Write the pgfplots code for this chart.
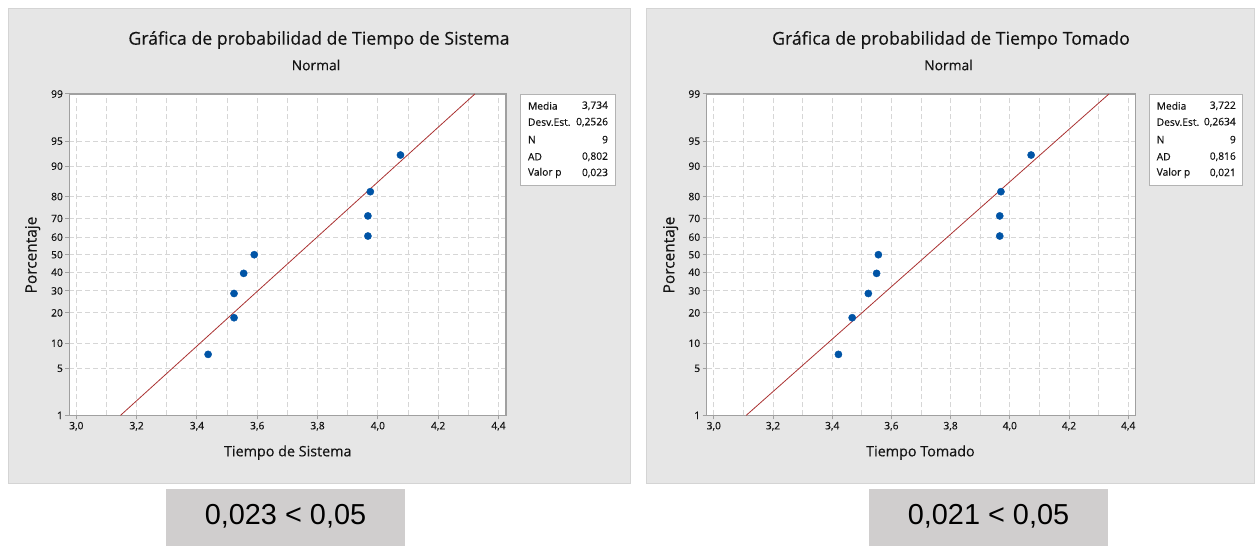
\documentclass[border=0pt]{standalone}
\usepackage{pgfplots}
\pgfplotsset{compat=1.18}
\usepackage{fontspec}
\setmainfont{Open Sans}[FakeBold=0.35]
\setsansfont{Open Sans}[FakeBold=0.35]
\newfontfamily\arialf{Liberation Sans}
\definecolor{panel}{RGB}{230,230,230}
\definecolor{panelborder}{RGB}{212,212,212}
\definecolor{boxgray}{RGB}{208,206,206}
\definecolor{gridc}{RGB}{214,214,214}
\definecolor{axisc}{RGB}{160,160,160}
\definecolor{ptblue}{RGB}{0,84,166}
\definecolor{fitred}{RGB}{170,50,50}
\definecolor{txt}{RGB}{20,20,20}

\pgfplotsset{
  probplot/.style={
    scale only axis,
    height=321.4bp,
    ymin=-2.32635, ymax=2.32635,
    ytick={-2.32635,-1.64485,-1.28155,-0.84162,-0.52440,-0.25335,0,0.25335,0.52440,0.84162,1.28155,1.64485,2.32635},
    yticklabels={1,5,10,20,30,40,50,60,70,80,90,95,99},
    xtick={3.0,3.2,3.4,3.6,3.8,4.0,4.2,4.4},
    xticklabels={{3,0},{3,2},{3,4},{3,6},{3,8},{4,0},{4,2},{4,4}},
    minor xtick={3.1,3.3,3.5,3.7,3.9,4.1,4.3},
    xmajorgrids, xminorgrids, ymajorgrids,
    major grid style={gridc, dash pattern=on 5bp off 3bp, line width=1bp},
    minor grid style={gridc, dash pattern=on 5bp off 3bp, line width=1bp},
    axis line style={axisc, line width=1.2bp},
    major tick style={axisc, line width=1bp},
    tick align=outside,
    major tick length=4bp,
    minor tick length=0pt,
    xtick pos=bottom, ytick pos=left,
    ticklabel style={font=\fontsize{10.3}{12}\selectfont, text=txt},
    xticklabel style={yshift=1bp},
    yticklabel style={xshift=1bp},
    axis background/.style={fill=white},
  }
}

\begin{document}
\begin{tikzpicture}
\path[use as bounding box] (0bp,0bp) rectangle (1255bp,-546bp);
% panels
\filldraw[fill=panel, draw=panelborder, line width=1bp] (8bp,-8bp) rectangle (630bp,-483bp);
\filldraw[fill=panel, draw=panelborder, line width=1bp] (646bp,-8bp) rectangle (1254bp,-483bp);
% bottom boxes
\fill[boxgray] (166bp,-489bp) rectangle (405bp,-546bp);
\fill[boxgray] (869bp,-489bp) rectangle (1108bp,-546bp);
\node[font=\arialf\fontsize{29}{32}\selectfont, text=black] at (285.5bp,-516bp) {0,023 < 0,05};
\node[font=\arialf\fontsize{29}{32}\selectfont, text=black] at (988.5bp,-516bp) {0,021 < 0,05};

% titles
\node[font=\fontsize{17.8}{20}\selectfont, text=txt] at (319bp,-40bp) {Gráfica de probabilidad de Tiempo de Sistema};
\node[font=\fontsize{13.9}{16}\selectfont, text=txt] at (316bp,-65bp) {Normal};
\node[font=\fontsize{17.8}{20}\selectfont, text=txt] at (951bp,-40bp) {Gráfica de probabilidad de Tiempo Tomado};
\node[font=\fontsize{13.9}{16}\selectfont, text=txt] at (948.5bp,-65bp) {Normal};
% axis labels
\node[font=\fontsize{15.5}{18}\selectfont, text=txt, rotate=90] at (32.7bp,-255bp) {Porcentaje};
\node[font=\fontsize{15.5}{18}\selectfont, text=txt, rotate=90] at (670.6bp,-255bp) {Porcentaje};
\node[font=\fontsize{14.4}{17}\selectfont, text=txt] at (287.8bp,-452.6bp) {Tiempo de Sistema};
\node[font=\fontsize{14.4}{17}\selectfont, text=txt] at (920.4bp,-452.6bp) {Tiempo Tomado};

% left axis
\begin{axis}[probplot, at={(69.4bp,-415.4bp)}, anchor=south west,
  width=436.6bp, xmin=2.977, xmax=4.425]
\addplot[fitred, line width=0.8bp] coordinates {(3.14636,-2.32635) (4.32164,2.32635)};
\addplot[only marks, mark=*, mark size=3.6bp, ptblue] coordinates {
(3.437,-1.4430) (3.523,-0.9123) (3.523,-0.5614) (3.555,-0.2702) (3.590,0)
(3.967,0.2702) (3.967,0.5614) (3.975,0.9123) (4.075,1.4430)};
\end{axis}

% right axis
\begin{axis}[probplot, at={(706.7bp,-415.4bp)}, anchor=south west,
  width=428.6bp, xmin=2.976, xmax=4.424]
\addplot[fitred, line width=0.8bp] coordinates {(3.10924,-2.32635) (4.33476,2.32635)};
\addplot[only marks, mark=*, mark size=3.6bp, ptblue] coordinates {
(3.421,-1.4430) (3.4675,-0.9123) (3.522,-0.5614) (3.550,-0.2702) (3.556,0)
(3.966,0.2702) (3.966,0.5614) (3.970,0.9123) (4.072,1.4430)};
\end{axis}

% stats boxes
\filldraw[fill=white, draw=axisc!80, line width=1bp] (520.4bp,-94bp) rectangle (615bp,-185bp);
\filldraw[fill=white, draw=axisc!80, line width=1bp] (1149bp,-94bp) rectangle (1242.7bp,-185bp);
\begin{scope}[every node/.style={font=\fontsize{10.3}{12}\selectfont, text=txt, inner sep=0pt}]
\node[anchor=west] at (527.8bp,-105.8bp) {Media};
\node[anchor=west] at (527.8bp,-122.2bp) {Desv.Est.};
\node[anchor=west] at (527.8bp,-139.6bp) {N};
\node[anchor=west] at (527.8bp,-156.7bp) {AD};
\node[anchor=west] at (527.8bp,-173bp) {Valor p};
\node[anchor=east] at (608.2bp,-105.8bp) {3,734};
\node[anchor=east] at (608.2bp,-122.2bp) {0,2526};
\node[anchor=east] at (608.2bp,-139.6bp) {9};
\node[anchor=east] at (608.2bp,-156.7bp) {0,802};
\node[anchor=east] at (608.2bp,-173bp) {0,023};
\node[anchor=west] at (1156.5bp,-105.8bp) {Media};
\node[anchor=west] at (1156.5bp,-122.2bp) {Desv.Est.};
\node[anchor=west] at (1156.5bp,-139.6bp) {N};
\node[anchor=west] at (1156.5bp,-156.7bp) {AD};
\node[anchor=west] at (1156.5bp,-173bp) {Valor p};
\node[anchor=east] at (1236bp,-105.8bp) {3,722};
\node[anchor=east] at (1236bp,-122.2bp) {0,2634};
\node[anchor=east] at (1236bp,-139.6bp) {9};
\node[anchor=east] at (1236bp,-156.7bp) {0,816};
\node[anchor=east] at (1236bp,-173bp) {0,021};
\end{scope}
\end{tikzpicture}
\end{document}
